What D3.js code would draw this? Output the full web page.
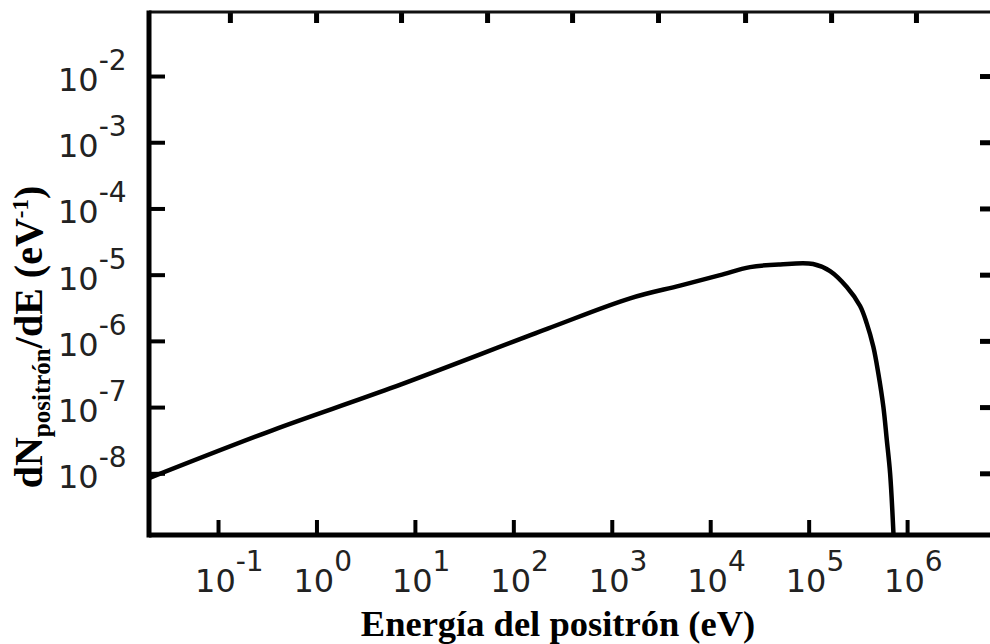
<!DOCTYPE html>
<html>
<head>
<meta charset="utf-8">
<script src="https://cdn.jsdelivr.net/npm/d3@7"></script>
<style>
  body { margin: 0; background: #fff; }
  svg { display: block; }
  .tick-label { font-family: "DejaVu Sans", sans-serif; font-size: 32px; fill: #222; }
  .title { font-family: "Liberation Serif", "Times New Roman", serif; font-weight: bold; fill: #000; }
</style>
</head>
<body>
<script>
// Spectrum of the positron energy
var energy = [0.0199, 0.362, 5.58, 220, 1535, 4940, 12590, 25400, 51300, 111000,
              165000, 244000, 333000, 389000, 454000, 510000, 574000, 622000, 672000, 728000];
var dNdE = [8.45e-9, 4.50e-8, 1.91e-7, 1.52e-6, 4.39e-6, 6.84e-6, 9.86e-6, 1.30e-5, 1.43e-5, 1.45e-5,
            1.13e-5, 6.50e-6, 3.36e-6, 1.84e-6, 8.14e-7, 3.23e-7, 1.01e-7, 3.18e-8, 9.95e-9, 1.17e-9];

// tick values
var xTickExp = [-1, 0, 1, 2, 3, 4, 5, 6];
var yTickExp = [-2, -3, -4, -5, -6, -7, -8];
// top ticks in the scan do not line up with the bottom decades
var topTicks = [0.132, 0.991, 7.23, 54.1, 395, 2950, 22600, 169000, 1230000];

var xDomain = [0.0199, 8.0e6];
var yDomain = [1.17e-9, 0.0927];

var W = 990, H = 644;
// plot box (note: "top" is a reserved window property, so use a margin object)
var box = {left: 149, top: 12, right: 996, bottom: 535};

var svg = d3.select("body").append("svg")
    .attr("width", W)
    .attr("height", H);

svg.append("rect").attr("width", W).attr("height", H).attr("fill", "#fff");

var x = d3.scaleLog().domain(xDomain).range([box.left, box.right]);
var y = d3.scaleLog().domain(yDomain).range([box.bottom, box.top]);

var xTicks = xTickExp.map(function(e) { return Math.pow(10, e); });
var yTicks = yTickExp.map(function(e) { return Math.pow(10, e); });

// clip for the curve
svg.append("defs").append("clipPath").attr("id", "clip")
  .append("rect")
    .attr("x", box.left).attr("y", box.top)
    .attr("width", box.right - box.left).attr("height", box.bottom - box.top);

// ticks (inward) drawn with d3 axes
function styleAxis(g, w) {
  g.select(".domain").remove();
  g.selectAll(".tick line").attr("stroke", "#000").attr("stroke-width", w);
  g.selectAll(".tick text").remove();
}

svg.append("g")
    .attr("transform", "translate(0," + box.bottom + ")")
    .call(d3.axisBottom(x).tickValues(xTicks).tickSize(-15).tickFormat(""))
    .call(styleAxis, 4);

svg.append("g")
    .attr("transform", "translate(0," + box.top + ")")
    .call(d3.axisTop(x).tickValues(topTicks).tickSize(-11).tickFormat(""))
    .call(styleAxis, 5);

svg.append("g")
    .attr("transform", "translate(" + box.left + ",0)")
    .call(d3.axisLeft(y).tickValues(yTicks).tickSize(-16).tickFormat(""))
    .call(styleAxis, 4);

svg.append("g")
    .attr("transform", "translate(" + box.right + ",0)")
    .call(d3.axisRight(y).tickValues(yTicks).tickSize(-16).tickFormat(""))
    .call(styleAxis, 5);

// frame
svg.append("line").attr("x1", box.left).attr("x2", box.right).attr("y1", box.top).attr("y2", box.top)
    .attr("stroke", "#111").attr("stroke-width", 3);
svg.append("line").attr("x1", box.left).attr("x2", box.right).attr("y1", box.bottom).attr("y2", box.bottom)
    .attr("stroke", "#000").attr("stroke-width", 5);
svg.append("line").attr("x1", box.left).attr("x2", box.left).attr("y1", box.top - 1.5).attr("y2", box.bottom + 2.5)
    .attr("stroke", "#000").attr("stroke-width", 5);
svg.append("line").attr("x1", box.right).attr("x2", box.right).attr("y1", box.top).attr("y2", box.bottom)
    .attr("stroke", "#000").attr("stroke-width", 5);

// curve
var pts = energy.map(function(e, i) { return [e, dNdE[i]]; });
var line = d3.line()
    .x(function(d) { return x(d[0]); })
    .y(function(d) { return y(d[1]); })
    .curve(d3.curveCatmullRom.alpha(0.5));

svg.append("path")
    .datum(pts)
    .attr("clip-path", "url(#clip)")
    .attr("d", line)
    .attr("fill", "none")
    .attr("stroke", "#000")
    .attr("stroke-width", 4.5)
    .attr("stroke-linejoin", "round");

// tick labels: 10 with superscript exponent
function powLabel(sel, e) {
  sel.append("tspan").text("10");
  sel.append("tspan").attr("dy", -21).attr("font-size", 28).text(e < 0 ? "-" + Math.abs(e) : e);
}

xTickExp.forEach(function(e) {
  svg.append("text")
    .attr("class", "tick-label")
    .attr("x", x(Math.pow(10, e)) - 23)
    .attr("y", 592)
    .call(powLabel, e);
});

yTickExp.forEach(function(e) {
  svg.append("text")
    .attr("class", "tick-label")
    .attr("x", 58)
    .attr("y", y(Math.pow(10, e)) + 15)
    .call(powLabel, e);
});

// axis titles
svg.append("text")
    .attr("class", "title")
    .attr("x", 558)
    .attr("y", 636)
    .attr("text-anchor", "middle")
    .attr("font-size", 36.5)
    .text("Energía del positrón (eV)");

var yt = svg.append("text")
    .attr("class", "title")
    .attr("transform", "translate(42,337) rotate(-90)")
    .attr("text-anchor", "middle")
    .attr("font-size", 40);
yt.append("tspan").text("dN");
yt.append("tspan").attr("dy", 8).attr("font-size", 25).text("positrón");
yt.append("tspan").attr("dy", -8).text("/dE (eV");
yt.append("tspan").attr("dy", -14).attr("font-size", 23).text("-1");
yt.append("tspan").attr("dy", 14).text(")");
</script>
</body>
</html>
